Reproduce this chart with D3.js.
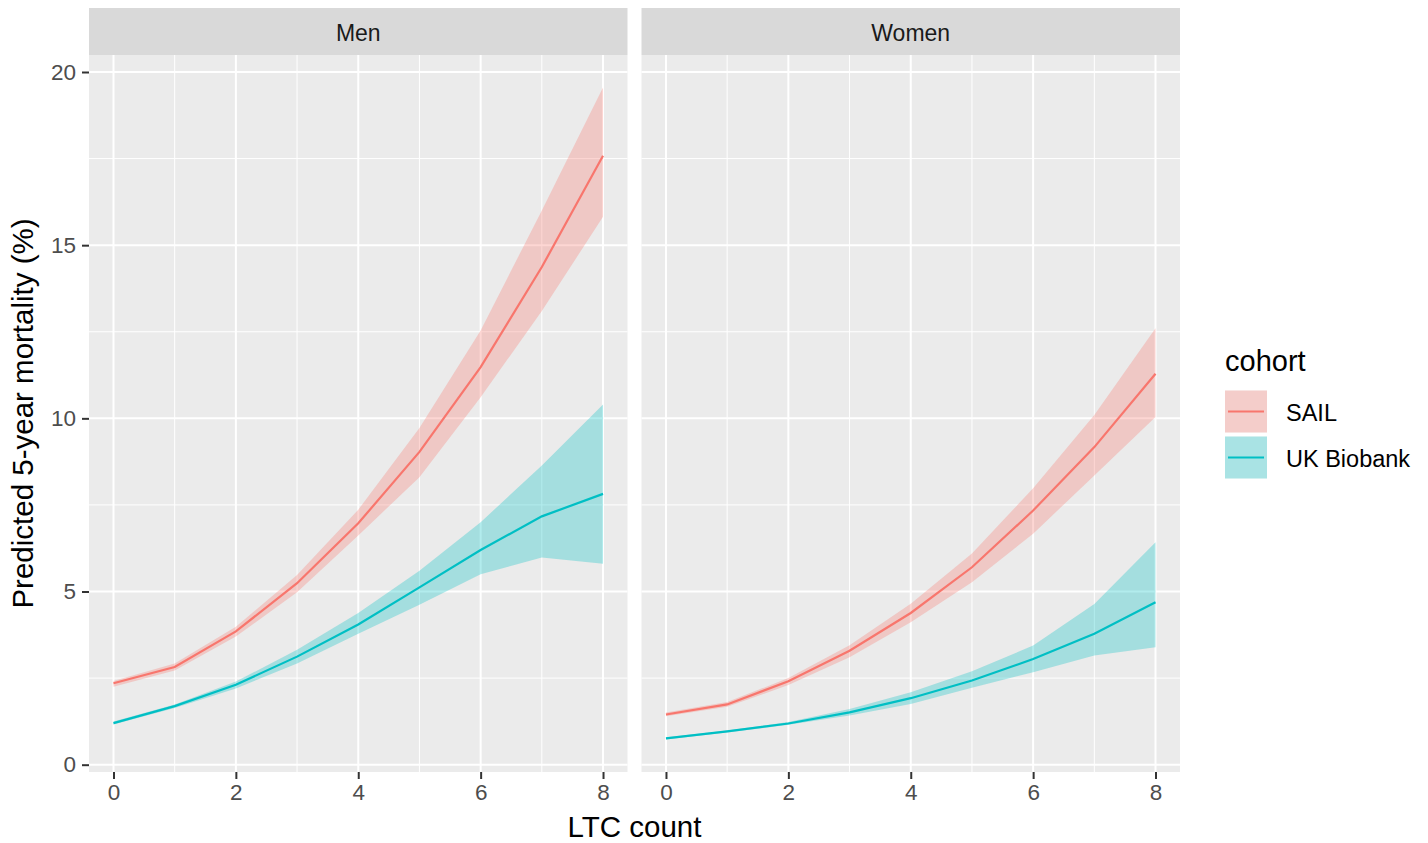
<!DOCTYPE html>
<html>
<head>
<meta charset="utf-8">
<script src="https://cdn.jsdelivr.net/npm/d3@7"></script>
<style>
  body { margin: 0; background: #fff; }
  text { font-family: "Liberation Sans", Arial, sans-serif; }
</style>
</head>
<body>
<div id="chart"></div>
<script>
var ltc = [0, 1, 2, 3, 4, 5, 6, 7, 8];
var panels = ['Men', 'Women'];
var cohorts = ['SAIL', 'UK Biobank'];
var colors = ['#F8766D', '#00BFC4'];
var xTicks = [0, 2, 4, 6, 8];
var yTicks = [0, 5, 10, 15, 20];

// predicted 5-year mortality (%) with lower / upper bounds
var menSail      = [2.35, 2.82, 3.85, 5.24, 6.97, 9.03, 11.48, 14.37, 17.58];
var menSailLo    = [2.25, 2.72, 3.70, 4.98, 6.62, 8.30, 10.61, 13.10, 15.82];
var menSailHi    = [2.42, 2.92, 3.98, 5.48, 7.36, 9.72, 12.54, 16.00, 19.55];
var menUkb       = [1.20, 1.69, 2.31, 3.12, 4.05, 5.12, 6.20, 7.17, 7.82];
var menUkbLo     = [1.16, 1.64, 2.20, 2.92, 3.78, 4.62, 5.50, 5.98, 5.80];
var menUkbHi     = [1.25, 1.74, 2.40, 3.32, 4.38, 5.60, 7.00, 8.64, 10.40];
var womenSail    = [1.45, 1.74, 2.41, 3.29, 4.38, 5.70, 7.34, 9.17, 11.29];
var womenSailLo  = [1.40, 1.67, 2.30, 3.10, 4.11, 5.27, 6.67, 8.35, 10.04];
var womenSailHi  = [1.51, 1.81, 2.50, 3.45, 4.65, 6.10, 7.98, 10.10, 12.60];
var womenUkb     = [0.76, 0.96, 1.19, 1.51, 1.92, 2.43, 3.05, 3.78, 4.69];
var womenUkbLo   = [0.73, 0.93, 1.15, 1.42, 1.75, 2.22, 2.67, 3.15, 3.39];
var womenUkbHi   = [0.79, 0.99, 1.23, 1.61, 2.09, 2.70, 3.44, 4.64, 6.42];

var series = [
  [ { mid: menSail, lo: menSailLo, hi: menSailHi }, { mid: menUkb, lo: menUkbLo, hi: menUkbHi } ],
  [ { mid: womenSail, lo: womenSailLo, hi: womenSailHi }, { mid: womenUkb, lo: womenUkbLo, hi: womenUkbHi } ]
];

var width = 1428, height = 843;
var panelLeft = [89, 641.5], panelW = 538.5;
var plotTop = 55, plotBottom = 772, stripTop = 8;

var svg = d3.select('#chart').append('svg')
  .attr('width', width).attr('height', height);

// y scale, ggplot style 5% expansion
var allVals = d3.merge([menSailLo, menSailHi, menUkbLo, menUkbHi, womenSailLo, womenSailHi, womenUkbLo, womenUkbHi]);
var yMin = d3.min(allVals), yMax = d3.max(allVals), pad = (yMax - yMin) * 0.05;
var y = d3.scaleLinear().domain([yMin - pad, yMax + pad]).range([plotBottom, plotTop]);

panels.forEach(function(name, p) {
  var x = d3.scaleLinear().domain([-0.4, 8.4]).range([panelLeft[p], panelLeft[p] + panelW]);
  var g = svg.append('g');

  g.append('rect')
    .attr('x', panelLeft[p]).attr('y', plotTop)
    .attr('width', panelW).attr('height', plotBottom - plotTop)
    .attr('fill', '#EBEBEB');

  // minor grid
  g.selectAll('.ymin').data([2.5, 7.5, 12.5, 17.5]).enter().append('line')
    .attr('x1', panelLeft[p]).attr('x2', panelLeft[p] + panelW)
    .attr('y1', function(d) { return y(d); }).attr('y2', function(d) { return y(d); })
    .attr('stroke', '#fff').attr('stroke-width', 1);
  g.selectAll('.xmin').data([1, 3, 5, 7]).enter().append('line')
    .attr('y1', plotTop).attr('y2', plotBottom)
    .attr('x1', function(d) { return x(d); }).attr('x2', function(d) { return x(d); })
    .attr('stroke', '#fff').attr('stroke-width', 1);
  // major grid
  g.selectAll('.ymaj').data(yTicks).enter().append('line')
    .attr('x1', panelLeft[p]).attr('x2', panelLeft[p] + panelW)
    .attr('y1', function(d) { return y(d); }).attr('y2', function(d) { return y(d); })
    .attr('stroke', '#fff').attr('stroke-width', 2);
  g.selectAll('.xmaj').data(xTicks).enter().append('line')
    .attr('y1', plotTop).attr('y2', plotBottom)
    .attr('x1', function(d) { return x(d); }).attr('x2', function(d) { return x(d); })
    .attr('stroke', '#fff').attr('stroke-width', 2);

  // strip
  g.append('rect')
    .attr('x', panelLeft[p]).attr('y', stripTop)
    .attr('width', panelW).attr('height', plotTop - stripTop)
    .attr('fill', '#D9D9D9');
  g.append('text')
    .attr('x', panelLeft[p] + panelW / 2).attr('y', 41)
    .attr('text-anchor', 'middle').attr('font-size', 23).attr('fill', '#1A1A1A')
    .text(name);

  var area = d3.area()
    .x(function(d, i) { return x(ltc[i]); })
    .y0(function(d) { return y(d[0]); })
    .y1(function(d) { return y(d[1]); });
  var line = d3.line()
    .x(function(d, i) { return x(ltc[i]); })
    .y(function(d) { return y(d); });

  series[p].forEach(function(s, c) {
    g.append('path')
      .attr('d', area(d3.zip(s.lo, s.hi)))
      .attr('fill', colors[c]).attr('fill-opacity', 0.3);
  });
  series[p].forEach(function(s, c) {
    g.append('path')
      .attr('d', line(s.mid))
      .attr('fill', 'none').attr('stroke', colors[c]).attr('stroke-width', 2.2);
  });

  // x axis
  var xa = g.append('g').attr('transform', 'translate(0,' + plotBottom + ')')
    .call(d3.axisBottom(x).tickValues(xTicks).tickSize(7).tickPadding(5));
  xa.attr('font-size', 22.5).attr('font-family', '"Liberation Sans", Arial, sans-serif');
  xa.select('.domain').remove();
  xa.selectAll('line').attr('stroke', '#333').attr('stroke-width', 2);
  xa.selectAll('text').attr('fill', '#4D4D4D');

  if (p === 0) {
    var ya = g.append('g').attr('transform', 'translate(' + panelLeft[p] + ',0)')
      .call(d3.axisLeft(y).tickValues(yTicks).tickSize(7).tickPadding(6));
    ya.attr('font-size', 22.5).attr('font-family', '"Liberation Sans", Arial, sans-serif');
    ya.select('.domain').remove();
    ya.selectAll('line').attr('stroke', '#333').attr('stroke-width', 2);
    ya.selectAll('text').attr('fill', '#4D4D4D');
  }
});

// axis titles
svg.append('text')
  .attr('x', (panelLeft[0] + panelLeft[1] + panelW) / 2).attr('y', 837)
  .attr('text-anchor', 'middle').attr('font-size', 29.5).attr('fill', '#000')
  .text('LTC count');
svg.append('text')
  .attr('transform', 'translate(33,' + (plotTop + plotBottom) / 2 + ') rotate(-90)')
  .attr('text-anchor', 'middle').attr('font-size', 29.5).attr('fill', '#000')
  .text('Predicted 5-year mortality (%)');

// legend
var lg = svg.append('g').attr('transform', 'translate(1225,0)');
lg.append('text').attr('x', 0).attr('y', 371).attr('font-size', 29).attr('fill', '#000').text('cohort');
cohorts.forEach(function(name, c) {
  var ky = 390.5 + c * 46;
  lg.append('rect').attr('x', 0).attr('y', ky).attr('width', 42).attr('height', 42).attr('fill', '#F2F2F2');
  lg.append('rect').attr('x', 0).attr('y', ky).attr('width', 42).attr('height', 42)
    .attr('fill', colors[c]).attr('fill-opacity', 0.3);
  lg.append('line').attr('x1', 3).attr('x2', 39).attr('y1', ky + 21).attr('y2', ky + 21)
    .attr('stroke', colors[c]).attr('stroke-width', 2.2);
  lg.append('text').attr('x', 61).attr('y', ky + 30).attr('font-size', 23.5).attr('fill', '#000').text(name);
});
</script>
</body>
</html>
